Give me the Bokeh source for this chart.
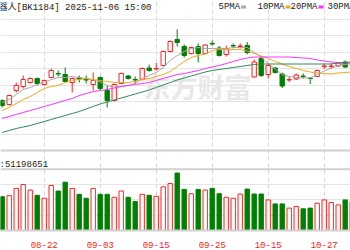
from bokeh.plotting import figure
from bokeh.models import Range1d, FixedTicker, Label, Span, BoxAnnotation, ColumnDataSource
from bokeh.layouts import column
from bokeh.embed import file_html
from bokeh.resources import INLINE
from bokeh.core.properties import value

# ---------------- data ----------------
dates = ["08-14", "08-15", "08-18", "08-19", "08-20", "08-21", "08-22", "08-25", "08-26", "08-27",
         "08-28", "08-29", "09-01", "09-02", "09-03", "09-04", "09-05", "09-08", "09-09", "09-10",
         "09-11", "09-12", "09-15", "09-16", "09-17", "09-18", "09-19", "09-22", "09-23", "09-24",
         "09-25", "09-26", "09-29", "09-30", "10-09", "10-10", "10-13", "10-14", "10-15", "10-16",
         "10-17", "10-20", "10-21", "10-22", "10-23", "10-24", "10-27", "10-28", "10-29", "10-30",
         "10-31"]
opens = [1238, 1230, 1258, 1266, 1274, 1282, 1270, 1284, 1292, 1290,
         1274, 1283, 1281, 1270, 1284, 1258, 1238, 1272, 1287, 1280,
         1280, 1303, 1301, 1308, 1336, 1360, 1346, 1332, 1346, 1332,
         1352, 1343, 1330, 1348, 1346, 1348, 1285, 1322, 1290, 1303,
         1291, 1279, 1281, 1287, 1283, 1286, 1306, 1306, 1307, 1315,
         1306]
highs = [1240, 1250, 1274, 1288, 1284, 1284, 1280, 1302, 1298, 1304,
         1284, 1288, 1288, 1294, 1286, 1268, 1272, 1294, 1289, 1286,
         1304, 1310, 1313, 1338, 1358, 1380, 1350, 1346, 1352, 1351,
         1358, 1347, 1348, 1352, 1352, 1355, 1320, 1326, 1312, 1305,
         1294, 1285, 1292, 1292, 1284, 1300, 1312, 1312, 1315, 1318,
         1312]
lows = [1224, 1228, 1254, 1262, 1272, 1268, 1268, 1283, 1286, 1274,
        1254, 1274, 1272, 1258, 1258, 1224, 1236, 1271, 1280, 1272,
        1278, 1296, 1298, 1306, 1334, 1346, 1324, 1330, 1314, 1330,
        1348, 1326, 1326, 1342, 1342, 1330, 1284, 1285, 1282, 1292,
        1263, 1275, 1279, 1282, 1271, 1285, 1301, 1301, 1305, 1303,
        1301]
closes = [1228, 1248, 1268, 1280, 1282, 1272, 1278, 1298, 1291, 1276,
          1282, 1281, 1279, 1278, 1262, 1238, 1270, 1292, 1282, 1279,
          1302, 1298, 1302, 1336, 1356, 1354, 1328, 1344, 1332, 1349,
          1351, 1328, 1342, 1347, 1347, 1334, 1315, 1288, 1308, 1294,
          1267, 1280, 1289, 1286, 1282, 1298, 1307, 1307, 1313, 1305,
          1307]
ma5 = [1234, 1240, 1250, 1260, 1264, 1270, 1274, 1280, 1284, 1284,
       1286, 1284, 1282, 1279, 1275, 1268, 1265, 1266, 1268, 1272,
       1282, 1288, 1294, 1304, 1318, 1328, 1336, 1342, 1344, 1342,
       1342, 1342, 1342, 1344, 1344, 1344, 1334, 1325, 1312, 1301,
       1290, 1286, 1284, 1283, 1283, 1290, 1297, 1303, 1307, 1310,
       1312]
ma10 = [1218, 1224, 1232, 1240, 1246, 1254, 1262, 1266, 1268, 1274,
        1278, 1280, 1282, 1280, 1278, 1276, 1274, 1274, 1274, 1276,
        1280, 1282, 1286, 1290, 1296, 1306, 1316, 1324, 1328, 1331,
        1338, 1340, 1340, 1340, 1340, 1337, 1332, 1327, 1322, 1316,
        1311, 1306, 1302, 1298, 1295, 1293, 1292, 1291, 1293, 1294,
        1295]
ma20 = [1202, 1206, 1210, 1214, 1218, 1222, 1226, 1230, 1234, 1238,
        1242, 1248, 1252, 1256, 1258, 1260, 1263, 1266, 1268, 1270,
        1272, 1274, 1278, 1282, 1286, 1290, 1292, 1295, 1298, 1302,
        1305, 1308, 1312, 1316, 1320, 1323, 1325, 1325, 1325, 1325,
        1325, 1325, 1324, 1323, 1322, 1319, 1317, 1315, 1314, 1313,
        1313]
ma30 = [1174, 1178, 1182, 1185, 1188, 1192, 1196, 1200, 1204, 1208,
        1212, 1216, 1221, 1226, 1231, 1235, 1239, 1243, 1247, 1251,
        1255, 1259, 1264, 1269, 1274, 1279, 1283, 1287, 1291, 1295,
        1298, 1300, 1302, 1304, 1306, 1308, 1310, 1311, 1311, 1311,
        1311, 1311, 1311, 1311, 1311, 1311, 1311, 1311, 1313, 1314,
        1315]
volume = [34300000, 35300000, 42700000, 46700000, 41000000, 35700000, 32700000, 45700000, 40000000, 49000000,
          42700000, 36700000, 32700000, 42700000, 36700000, 36700000, 33700000, 40000000, 33700000, 29300000,
          36700000, 35700000, 34700000, 44300000, 47700000, 58300000, 41700000, 37300000, 41700000, 41000000,
          42700000, 37300000, 33700000, 32700000, 37000000, 42000000, 37000000, 37000000, 31000000, 27000000,
          27000000, 22700000, 24300000, 22000000, 22700000, 27700000, 31000000, 28300000, 26000000, 31000000,
          29300000]
volume_up = [0, 1, 1, 1, 1, 0, 1, 1, 0, 0,
             1, 0, 0, 1, 0, 0, 1, 1, 0, 0,
             1, 0, 1, 1, 1, 0, 0, 1, 0, 1,
             0, 0, 1, 1, 1, 0, 0, 0, 1, 0,
             0, 1, 1, 0, 0, 1, 1, 1, 1, 0,
             1]
tick_dates = ["08-22", "09-03", "09-15", "09-25", "10-15", "10-27"]
title_text = "器人[BK1184] 2025-11-06 15:00"
legend_names = ["5PMA", "10PMA", "20PMA", "30PMA"]
vol_text = ":51198651"
watermark = "东方财富"

# ---------------- styling ----------------
RED = "#ff2020"
GREEN = "#008000"
MA_COLORS = ["#a8a8a8", "#f5a623", "#ff33ff", "#2e8b57"]
MONO = "Liberation Mono, Noto Sans CJK SC"
GRID = "#e4e4e4"
BORDER = "#d0d0d0"

n = len(dates)
xs = list(range(n))
up = [c >= o for o, c in zip(opens, closes)]
src = ColumnDataSource(dict(
    x=xs, h=highs, l=lows,
    top=[max(o, c) for o, c in zip(opens, closes)],
    bot=[min(o, c) for o, c in zip(opens, closes)],
    fill=["#ffffff" if u else GREEN for u in up],
    line=[RED if u else GREEN for u in up],
    vfill=["#ffffff" if u else GREEN for u in volume_up],
    vline=[RED if u else GREEN for u in volume_up],
    vol=volume,
))
tick_idx = [dates.index(d) for d in tick_dates]

xr = Range1d(-0.243, 49.757)

# ---------------- price panel ----------------
p1 = figure(width=350, height=160, x_range=xr, y_range=Range1d(1118, 1438),
            output_backend="svg", toolbar_location=None, min_border=0,
            x_axis_location=None, y_axis_location=None)
p1.outline_line_color = None
p1.background_fill_color = "white"
p1.border_fill_color = "white"
p1.xgrid.ticker = FixedTicker(ticks=tick_idx)
p1.xgrid.grid_line_dash = "4 3"
p1.xgrid.grid_line_color = "#d6d6d6"
p1.xgrid.bounds = (1138, 1400)
p1.ygrid.ticker = FixedTicker(ticks=[1400 - 32.75 * k for k in range(8)])
p1.ygrid.grid_line_color = GRID
p1.add_layout(Span(location=1138, dimension="width", line_color=BORDER, line_width=2))

p1.text(x=[20.2], y=[1266], text=[watermark], text_font=value("Noto Sans CJK SC"),
        text_font_size="27px", text_font_style="bold", text_color="#e8e8e8",
        text_baseline="middle", text_align="left")

p1.segment(x0="x", y0="h", x1="x", y1="l", line_color="line", line_width=1, source=src)
p1.vbar(x="x", width=0.62, top="top", bottom="bot", fill_color="fill",
        line_color="line", line_width=1, source=src)
for series, col in zip([ma5, ma10, ma20, ma30], MA_COLORS):
    p1.line(xs, series, line_color=col, line_width=1)

p1.add_layout(Label(x=-2, y=153, x_units="screen", y_units="screen", text=title_text,
                    text_font=MONO, text_font_size="9px", text_color="#222222",
                    text_baseline="middle"))
leg_x = [218, 257, 290, 327]
for name, col, lx in zip(legend_names, MA_COLORS, leg_x):
    p1.add_layout(Label(x=lx, y=153.5, x_units="screen", y_units="screen", text=name,
                        text_font=MONO, text_font_size="9px", text_color="#222222",
                        text_baseline="middle"))
    w = 5.4 * len(name)
    p1.add_layout(BoxAnnotation(left=lx + w + 1, right=lx + w + 6, bottom=152, top=155,
                                left_units="screen", right_units="screen",
                                bottom_units="screen", top_units="screen",
                                fill_color=col, fill_alpha=1, line_color=None))

# ---------------- volume panel ----------------
p2 = figure(width=350, height=90, x_range=xr, y_range=Range1d(0, 71000000),
            output_backend="svg", toolbar_location=None, min_border=0,
            min_border_bottom=19, y_axis_location=None, x_axis_location="below")
p2.outline_line_color = None
p2.background_fill_color = "white"
p2.border_fill_color = "white"
p2.xgrid.ticker = FixedTicker(ticks=tick_idx)
p2.xgrid.grid_line_dash = "4 3"
p2.xgrid.grid_line_color = "#d6d6d6"
p2.xgrid.bounds = (0, 62000000)
p2.ygrid.ticker = FixedTicker(ticks=[15500000, 31000000, 46500000])
p2.ygrid.grid_line_color = GRID
p2.add_layout(Span(location=62000000, dimension="width", line_color=BORDER, line_width=2))

ax = p2.xaxis[0]
ax.ticker = FixedTicker(ticks=tick_idx)
ax.major_label_overrides = {i: d for i, d in zip(tick_idx, tick_dates)}
ax.major_tick_line_color = None
ax.minor_tick_line_color = None
ax.axis_line_color = BORDER
ax.axis_line_width = 2
ax.major_label_standoff = 5
ax.major_label_text_color = RED
ax.major_label_text_font = MONO
ax.major_label_text_font_size = "9px"

p2.vbar(x="x", width=0.62, top="vol", bottom=0, fill_color="vfill",
        line_color="vline", line_width=1, source=src)
p2.add_layout(Label(x=-1, y=66, x_units="screen", y_units="screen", text=vol_text,
                    text_font=MONO, text_font_size="9px", text_color="#222222",
                    text_baseline="middle"))

layout = column(p1, p2)
open("out.html", "w").write(file_html(layout, INLINE))
